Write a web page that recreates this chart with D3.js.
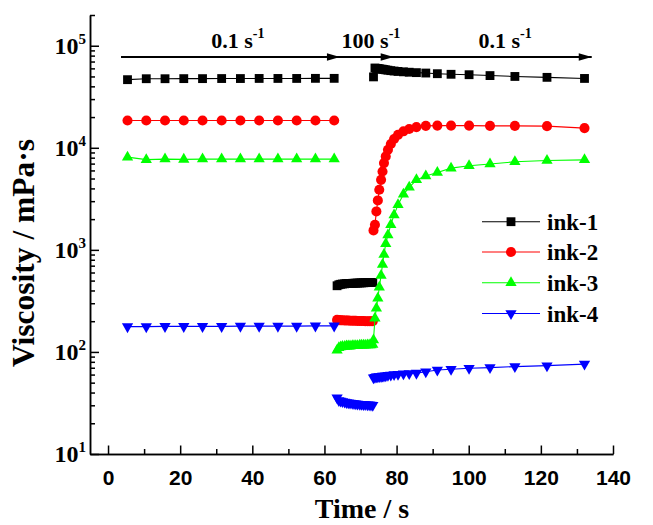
<!doctype html>
<html>
  <head>
    <title>Viscosity recovery</title>
    <script src="https://d3js.org/d3.v7.min.js"></script>
    <style>
      body { margin: 0; background: #fff; }
      svg {
        display: block;
        font-family: "Liberation Serif", "Times New Roman", serif;
        font-weight: bold;
      }
      .axis path, .axis line { stroke: #000; stroke-width: 1.5; }
      .axis text { font-size: 21px; fill: #000; }
      path.series { fill: none; stroke-width: 1.1; }
    </style>
  </head>
  <body>
    <svg width="653" height="525"></svg>
    <script>
      // time points (s) for the three steps: 0.1 s-1, 100 s-1, 0.1 s-1
      var timeStep1 = [5.4, 10.6, 15.8, 21.0, 26.2, 31.5, 36.7, 41.9, 47.1, 52.3, 57.5, 62.7];
      var timeStep2 = [63.5, 64.0, 64.5, 65.0, 65.6, 66.1, 66.6, 67.1, 67.7, 68.2, 68.7, 69.2, 69.8, 70.3, 70.8, 71.3, 71.9, 72.4, 72.9, 73.4];
      var timeStep3 = [73.6, 74.0, 74.4, 74.8, 75.2, 75.7, 76.1, 76.5, 77.0, 77.6, 78.4, 79.3, 80.4, 81.9, 83.5, 85.5, 88.1, 91.3, 95.1, 100.1, 105.9, 112.8, 121.7, 132.1];

      // viscosity (mPa·s)
      var ink1Step1 = [46500, 47500, 47500, 47600, 47600, 47700, 47700, 47800, 47800, 47800, 47900, 47900];
      var ink1Step2 = [445, 455, 460, 463, 465, 467, 468, 469, 470, 471, 472, 473, 474, 475, 476, 477, 478, 479, 480, 480];
      var ink1Step3 = [49500, 60500, 60000, 59800, 59500, 59000, 58800, 58500, 58000, 57600, 57000, 56500, 56000, 55500, 55000, 54500, 54000, 53200, 52500, 52000, 51000, 50000, 49000, 47800];

      var ink2Step1 = [18500, 18500, 18500, 18500, 18500, 18500, 18500, 18500, 18500, 18500, 18500, 18500];
      var ink2Step2 = [206, 205, 204, 204, 203, 203, 203, 202, 202, 202, 202, 201, 201, 201, 201, 200, 200, 200, 200, 200];
      var ink2Step3 = [1550, 1760, 2380, 3050, 3880, 4850, 5860, 7080, 8230, 9560, 10900, 12200, 13400, 14500, 15300, 15950, 16400, 16500, 16500, 16500, 16400, 16400, 16300, 15600];

      var ink3Step1 = [8100, 7650, 7750, 7700, 7750, 7750, 7750, 7750, 7750, 7750, 7750, 7750];
      var ink3Step2 = [104, 110, 112, 113, 113, 114, 114, 114, 115, 115, 115, 115, 116, 116, 116, 116, 117, 117, 117, 118];
      var ink3Step3 = [131, 214, 268, 336, 430, 560, 720, 900, 1150, 1400, 1760, 2200, 2760, 3500, 4100, 4850, 5300, 5730, 6320, 6670, 6930, 7290, 7510, 7620];

      var ink4Step1 = [177, 177, 178, 178, 178, 178, 179, 179, 179, 179, 180, 180];
      var ink4Step2 = [35.5, 33.5, 33, 32.6, 32.3, 32, 31.8, 31.6, 31.4, 31.2, 31, 30.9, 30.8, 30.7, 30.6, 30.5, 30.4, 30.3, 30.2, 30.1];
      var ink4Step3 = [56, 56.5, 57, 57, 57.5, 57.5, 58, 58, 58.5, 59, 59.5, 60, 60.5, 61, 61.5, 62, 64, 66.5, 67.7, 69.3, 70.2, 71.8, 73.4, 76];

      var seriesNames = ["ink-1", "ink-2", "ink-3", "ink-4"];
      var xTicks = [0, 20, 40, 60, 80, 100, 120, 140];
      var xMinorTicks = [10, 30, 50, 70, 90, 110, 130];
      var yExponents = [1, 2, 3, 4, 5];

      // shear-rate annotation: arrow stops (s) and labels
      var arrowStops = [3.6, 64.3, 79.2, 134.1];
      var rateLabels = ["0.1 s", "100 s", "0.1 s"];
      var rateLabelTimes = [36.0, 72.9, 110.1];

      var svg = d3.select("svg");

      var x = d3.scaleLinear().domain([-5, 140]).range([90, 613]);
      var y = d3.scaleLog().domain([10, 2e5]).range([454, 15]);

      // axes, ticks pointing inward
      svg.append("g")
        .attr("class", "axis")
        .attr("transform", "translate(0,454)")
        .call(d3.axisBottom(x).tickValues(xTicks).tickSize(-8.5).tickSizeOuter(0).tickPadding(16).tickFormat(d3.format("d")));
      svg.append("g")
        .attr("class", "axis")
        .attr("transform", "translate(0,454)")
        .call(d3.axisBottom(x).tickValues(xMinorTicks).tickSize(-5).tickSizeOuter(0).tickFormat(""));

      var yMinor = [];
      yExponents.forEach(function(e) {
        for (var m = 2; m <= 9; m++) {
          var v = m * Math.pow(10, e);
          if (v <= 2e5) yMinor.push(v);
        }
      });
      var yMajor = yExponents.map(function(e) { return Math.pow(10, e); });

      svg.append("g")
        .attr("class", "axis")
        .attr("transform", "translate(90,0)")
        .call(d3.axisLeft(y).tickValues(yMajor).tickSize(-9).tickSizeOuter(0).tickFormat(""));
      svg.append("g")
        .attr("class", "axis")
        .attr("transform", "translate(90,0)")
        .call(d3.axisLeft(y).tickValues(yMinor).tickSize(-5).tickSizeOuter(0).tickFormat(""));

      var yLab = svg.append("g").selectAll("text").data(yExponents)
        .enter().append("text")
          .attr("x", 86)
          .attr("y", function(e) { return y(Math.pow(10, e)) + 8; })
          .attr("text-anchor", "end")
          .style("font-size", "24px");
      yLab.append("tspan").text("10");
      yLab.append("tspan").attr("dy", -10).style("font-size", "15px").text(function(e) { return e; });

      // axis titles
      svg.append("text")
        .attr("x", 362).attr("y", 518)
        .attr("text-anchor", "middle")
        .style("font-size", "28px")
        .text("Time / s");
      svg.append("text")
        .attr("transform", "translate(34,253) rotate(-90)")
        .attr("text-anchor", "middle")
        .style("font-size", "31.5px")
        .text("Viscosity / mPa\u00b7s");

      // shear-rate arrows
      var arrowY = 57;
      svg.append("line")
        .attr("x1", x(arrowStops[0])).attr("x2", x(arrowStops[3]))
        .attr("y1", arrowY).attr("y2", arrowY)
        .attr("stroke", "#000").attr("stroke-width", 2);
      svg.selectAll("path.head").data(arrowStops.slice(1))
        .enter().append("path")
          .attr("class", "head")
          .attr("d", function(t) {
            var tx = x(t);
            return "M" + tx + "," + arrowY + "L" + (tx - 13) + "," + (arrowY - 3.8) + "L" + (tx - 13) + "," + (arrowY + 3.8) + "Z";
          })
          .attr("fill", "#000");
      var rl = svg.selectAll("text.rate").data(rateLabels)
        .enter().append("text")
          .attr("class", "rate")
          .attr("x", function(d, i) { return x(rateLabelTimes[i]); })
          .attr("y", 48)
          .attr("text-anchor", "middle")
          .style("font-size", "22px");
      rl.append("tspan").text(function(d) { return d; });
      rl.append("tspan").attr("dy", -10).style("font-size", "14px").text("-1");

      // series
      var colors = ["#000000", "#ff0000", "#00ff00", "#0000ff"];
      var symbols = [
        d3.symbol().type(d3.symbolSquare).size(78),
        d3.symbol().type(d3.symbolCircle).size(80),
        d3.symbol().type(d3.symbolTriangle).size(55),
        d3.symbol().type(d3.symbolTriangle).size(55)
      ];
      var rotations = [0, 0, 0, 180];
      var steps = [
        [ink1Step1, ink1Step2, ink1Step3],
        [ink2Step1, ink2Step2, ink2Step3],
        [ink3Step1, ink3Step2, ink3Step3],
        [ink4Step1, ink4Step2, ink4Step3]
      ];
      var times = [timeStep1, timeStep2, timeStep3];

      var line = d3.line()
        .x(function(d) { return x(d[0]); })
        .y(function(d) { return y(d[1]); });

      steps.forEach(function(segs, i) {
        var g = svg.append("g");
        segs.forEach(function(vals, k) {
          var pts = vals.map(function(v, j) { return [times[k][j], v]; });
          g.append("path")
            .datum(pts)
            .attr("class", "series")
            .attr("stroke", colors[i])
            .attr("d", line);
          g.selectAll("path.m" + k).data(pts)
            .enter().append("path")
              .attr("class", "m" + k)
              .attr("d", symbols[i])
              .attr("fill", colors[i])
              .attr("transform", function(d) {
                return "translate(" + x(d[0]) + "," + y(d[1]) + ") rotate(" + rotations[i] + ")";
              });
        });
      });

      // legend
      var legendRows = [221.7, 252, 282.7, 313.5];
      var lg = svg.selectAll("g.legend").data(seriesNames)
        .enter().append("g")
          .attr("class", "legend")
          .attr("transform", function(d, i) { return "translate(0," + legendRows[i] + ")"; });
      lg.append("line")
        .attr("x1", 482).attr("x2", 540)
        .attr("stroke", function(d, i) { return colors[i]; })
        .attr("stroke-width", 1.1);
      lg.append("path")
        .attr("d", function(d, i) { return symbols[i](); })
        .attr("fill", function(d, i) { return colors[i]; })
        .attr("transform", function(d, i) { return "translate(511,0) rotate(" + rotations[i] + ")"; });
      lg.append("text")
        .attr("x", 547).attr("y", 8)
        .style("font-size", "23px")
        .text(function(d) { return d; });
    </script>
  </body>
</html>
